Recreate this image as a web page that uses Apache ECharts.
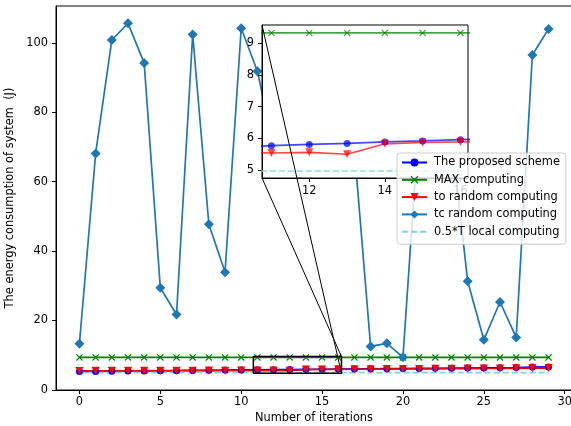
<!DOCTYPE html>
<html><head><meta charset="utf-8">
<script src="https://cdn.jsdelivr.net/npm/echarts@6/dist/echarts.min.js"></script>
<style>html,body{margin:0;padding:0;background:#fff}#c{width:571px;height:426px}</style>
</head><body><div id="c"></div>
<script>
// ---------- data ----------
const iterations = [0,1,2,3,4,5,6,7,8,9,10,11,12,13,14,15,16,17,18,19,20,21,22,23,24,25,26,27,28,29];
const proposedScheme = [5.25,5.30,5.34,5.38,5.42,5.47,5.52,5.57,5.62,5.67,5.72,5.77,5.81,5.84,5.89,5.92,5.96,6.00,6.04,6.08,6.12,6.15,6.19,6.23,6.27,6.31,6.35,6.40,6.55,6.60];
const maxComputing = [9.33,9.33,9.33,9.33,9.33,9.33,9.33,9.33,9.33,9.33,9.33,9.33,9.33,9.33,9.33,9.33,9.33,9.33,9.33,9.33,9.33,9.33,9.33,9.33,9.33,9.33,9.33,9.33,9.33,9.33];
const toRandom = [5.45,5.47,5.48,5.46,5.50,5.49,5.52,5.51,5.53,5.52,5.55,5.54,5.56,5.50,5.83,5.87,5.89,5.92,5.95,5.97,6.00,6.02,6.05,6.08,6.10,6.13,6.16,6.18,6.22,6.25];
const tcRandom = [13.3,68.1,100.8,105.6,94.2,29.4,21.7,102.4,47.7,33.9,104.2,91.8,70.5,88.0,76.0,97.0,82.0,69.0,12.5,13.4,9.4,78.0,85.0,73.0,31.3,14.4,25.3,15.1,96.5,104.0];
const localHalfT = [4.97,4.97,4.97,4.97,4.97,4.97,4.97,4.97,4.97,4.97,4.97,4.97,4.97,4.97,4.97,4.97,4.97,4.97,4.97,4.97,4.97,4.97,4.97,4.97,4.97,4.97,4.97,4.97,4.97,4.97];
const seriesNames = ['The proposed scheme','MAX computing','to random computing','tc random computing','0.5*T local computing'];
const xTicks = [0,5,10,15,20,25,30];
const yTicks = [0,20,40,60,80,100];
const insetXTicks = [12,14,16];
const insetYTicks = [5,6,7,8,9];
const zoomX = [10.75, 16.2];
const zoomY = [4.75, 9.58];
const mainX = [-1.45, 30.45];
const mainY = [-0.06, 110.6];

// ---------- styling ----------
const FONT = 'DejaVu Sans';
const XPATH = 'path://M1.2,0L5,3.8L8.8,0L10,1.2L6.2,5L10,8.8L8.8,10L5,6.2L1.2,10L0,8.8L3.8,5L0,1.2Z';
const LW = 1.7;
const styleOf = [
  {color:'#0000ff', symbol:'circle', size:7},
  {color:'#008000', symbol:XPATH, size:7},
  {color:'#ff0000', symbol:'triangle', size:8, rotate:180},
  {color:'#1f77b4', symbol:'diamond', size:10},
  {color:'#87ceeb', symbol:'none', size:0, dashed:true}
];
const values = [proposedScheme, maxComputing, toRandom, tcRandom, localHalfT];
const pairs = arr => arr.map((v,i)=>[iterations[i], v]);

function makeSeries(k, inset){
  const s = styleOf[k];
  const op = inset ? 0.72 : 1;
  return {
    name: seriesNames[k], type:'line',
    xAxisIndex: inset?1:0, yAxisIndex: inset?1:0,
    data: pairs(values[k]),
    symbol: s.symbol, symbolSize: s.size, symbolRotate: s.rotate || 0,
    showSymbol: s.symbol !== 'none',
    lineStyle: {color:s.color, width:LW, type: s.dashed ? [6.3,2.7] : 'solid', opacity:op},
    itemStyle: {color:s.color, opacity:op},
    z: inset ? 7 : 2,
    clip: true, silent:true, animation:false,
    emphasis:{disabled:true}
  };
}

const series = [];
for (let k=0;k<5;k++) series.push(makeSeries(k,false));
// indicator rectangle in main axes
series.push({
  type:'line', xAxisIndex:0, yAxisIndex:0, z:3, symbol:'none', silent:true,
  data:[[zoomX[0],zoomY[0]],[zoomX[1],zoomY[0]],[zoomX[1],zoomY[1]],[zoomX[0],zoomY[1]],[zoomX[0],zoomY[0]]],
  lineStyle:{color:'#000', width:1.5}
});
for (let k=0;k<5;k++) series.push(makeSeries(k,true));

const axisCommon = {
  axisLine:{show:true, onZero:false, lineStyle:{color:'#000', width:1}},
  splitLine:{show:false},
};

const legendData = seriesNames.map((n,k)=> k===4 ? {name:n, itemStyle:{opacity:0}} : {name:n});

const chart = echarts.init(document.getElementById('c'), null, {renderer:'canvas'});
chart.setOption({
  animation:false,
  textStyle:{fontFamily:FONT},
  grid:[
    {left:56, top:6, right:-1, bottom:36, show:true, borderColor:'#000', borderWidth:1, backgroundColor:'transparent', containLabel:false, outerBoundsMode:'none', z:0},
    {left:262, top:25, width:206, height:153, show:true, borderColor:'#000', borderWidth:1, backgroundColor:'#fff', containLabel:false, outerBoundsMode:'none', z:5}
  ],
  xAxis:[
    Object.assign({}, axisCommon, {type:'value', gridIndex:0, min:mainX[0], max:mainX[1],
      axisTick:{show:true, inside:false, length:4, customValues:xTicks, lineStyle:{color:'#000'}},
      axisLabel:{customValues:xTicks, color:'#000', fontSize:11.4, margin:7, fontFamily:FONT},
      name:'Number of iterations', nameLocation:'middle', nameGap:21,
      nameTextStyle:{color:'#000', fontSize:11.4, fontFamily:FONT}}),
    Object.assign({}, axisCommon, {type:'value', gridIndex:1, min:zoomX[0], max:zoomX[1], z:6,
      axisTick:{show:true, inside:false, length:4, customValues:insetXTicks, lineStyle:{color:'#000'}},
      axisLabel:{customValues:insetXTicks, color:'#000', fontSize:11.4, margin:8, fontFamily:FONT}})
  ],
  yAxis:[
    Object.assign({}, axisCommon, {type:'value', gridIndex:0, min:mainY[0], max:mainY[1],
      axisTick:{show:true, inside:false, length:4, customValues:yTicks, lineStyle:{color:'#000'}},
      axisLabel:{customValues:yTicks, color:'#000', fontSize:11.4, margin:8, fontFamily:FONT},
      name:'The energy consumption of system  (J)', nameLocation:'middle', nameGap:34,
      nameTextStyle:{color:'#000', fontSize:11.4, fontFamily:FONT}}),
    Object.assign({}, axisCommon, {type:'value', gridIndex:1, min:zoomY[0], max:zoomY[1], z:6,
      axisTick:{show:true, inside:false, length:4, customValues:insetYTicks, lineStyle:{color:'#000'}},
      axisLabel:{customValues:insetYTicks, color:'#000', fontSize:11.4, margin:8, fontFamily:FONT}})
  ],
  legend:{
    data: legendData, orient:'vertical', left:397, top:153, z:10,
    padding:[3,6,6,4], itemWidth:25, itemHeight:10, itemGap:4.3,
    textStyle:{fontSize:11.4, lineHeight:13, color:'#000', fontFamily:FONT, padding:[0,0,0,2]},
    backgroundColor:'rgba(255,255,255,0.8)', borderColor:'#cccccc', borderWidth:1, borderRadius:3,
    selectedMode:false
  },
  series: series
});

// connector lines from inset corners to the indicator rectangle
const insetTL = chart.convertToPixel({gridIndex:1}, [zoomX[0], zoomY[1]]);
const insetBL = chart.convertToPixel({gridIndex:1}, [zoomX[0], zoomY[0]]);
const rectBR = chart.convertToPixel({gridIndex:0}, [zoomX[1], zoomY[0]]);
const rectTR = chart.convertToPixel({gridIndex:0}, [zoomX[1], zoomY[1]]);
chart.setOption({graphic:[
  {type:'line', z:8, silent:true, shape:{x1:insetTL[0], y1:insetTL[1], x2:rectBR[0], y2:rectBR[1]}, style:{stroke:'#000', lineWidth:1}},
  {type:'line', z:8, silent:true, shape:{x1:insetBL[0], y1:insetBL[1], x2:rectTR[0], y2:rectTR[1]}, style:{stroke:'#000', lineWidth:1}}
]});
</script>
</body></html>
